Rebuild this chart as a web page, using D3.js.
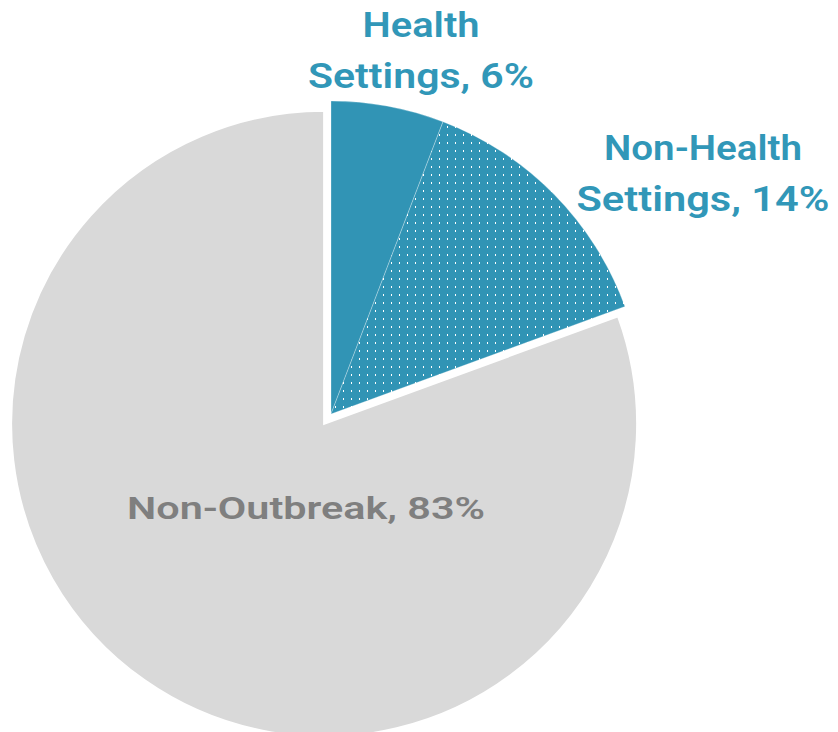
<!DOCTYPE html>
<html>
<head>
<meta charset="utf-8">
<script src="https://cdn.jsdelivr.net/npm/d3@7"></script>
<style>
  html, body { margin: 0; padding: 0; background: #fff; }
  svg { display: block; }
  text { font-family: Roboto, "Liberation Sans", sans-serif; font-weight: 600; }
</style>
</head>
<body>
<script>
// chart data
var categories = ["Health Settings", "Non-Health Settings", "Non-Outbreak"];
var shares = [6, 14, 83];
var labelLines = [["Health", "Settings, 6%"], ["Non-Health", "Settings, 14%"], ["Non-Outbreak, 83%"]];

var W = 838, H = 732;
var cx = 331, cy = 414, R = 313;
var blue = "#3194b5", grey = "#d9d9d9";

var svg = d3.select("body").append("svg")
    .attr("width", W).attr("height", H);

// dotted fill for the non-health slice
var pat = svg.append("defs").append("pattern")
    .attr("id", "dots")
    .attr("patternUnits", "userSpaceOnUse")
    .attr("width", 8).attr("height", 8)
    .attr("patternTransform", "translate(" + (-cx) + "," + (-cy) + ")");
pat.append("rect").attr("width", 8).attr("height", 8).attr("fill", blue);
pat.append("rect").attr("x", 7).attr("y", 6).attr("width", 2).attr("height", 2).attr("fill", "#fff");

var pie = d3.pie().sort(null).value(function(d) { return d; });
var arc = d3.arc().innerRadius(0).outerRadius(R);
var arcs = pie(shares);

var fills = [blue, "url(#dots)", grey];
var explode = [0, 0, 12];

var g = svg.append("g").attr("transform", "translate(" + cx + "," + cy + ")");

g.selectAll("path").data(arcs)
  .enter().append("path")
    .attr("d", arc)
    .attr("fill", function(d, i) { return fills[i]; })
    .attr("stroke", function(d, i) { return i == 2 ? "#fff" : "rgba(255,255,255,0.35)"; })
    .attr("stroke-width", function(d, i) { return i == 2 ? 2 : 0.8; })
    .attr("transform", function(d, i) {
      var a = (d.startAngle + d.endAngle) / 2;
      return "translate(" + (explode[i] * Math.sin(a)) + "," + (-explode[i] * Math.cos(a)) + ")";
    });

// labels: x centre, first baseline, line widths
var labelPos = [[421, 37], [703, 160], [306, 519]];
var labelWidths = [[117, 226], [198, 253], [358]];
var labelColor = ["#3197b8", "#3197b8", "#7f7f7f"];
var labelSize = [35, 35, 31];

labelLines.forEach(function(lines, i) {
  var t = svg.append("text")
      .attr("y", labelPos[i][1])
      .attr("text-anchor", "middle")
      .attr("fill", labelColor[i])
      .style("font-size", labelSize[i] + "px");
  lines.forEach(function(s, j) {
    t.append("tspan")
      .attr("x", labelPos[i][0])
      .attr("dy", j == 0 ? 0 : 51)
      .attr("textLength", labelWidths[i][j])
      .attr("lengthAdjust", "spacingAndGlyphs")
      .text(s);
  });
});
</script>
</body>
</html>
